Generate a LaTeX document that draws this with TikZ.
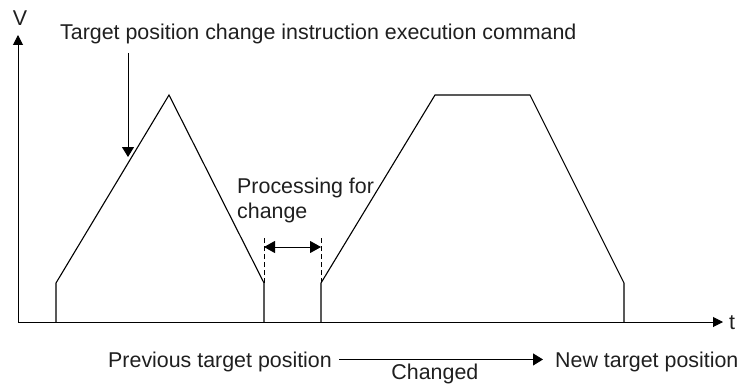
\documentclass[tikz,border=0pt]{standalone}
\usepackage{fontspec}
\setmainfont{Liberation Sans}
\usetikzlibrary{arrows.meta}

\newcommand*{\tbase}{322}
\newcommand*{\kink}{283}
\newcommand*{\vpeak}{95}

\begin{document}
\begin{tikzpicture}
[
	x=1pt,
	y=-1pt,
	axis/.style={line width=1pt,-{Triangle[length=10pt,width=10pt]}},
	profile/.style={line width=1.1pt,line join=miter},
	txt/.style={inner sep=0pt,text=black!88,font=\fontsize{21.4}{24.5}\selectfont},
	tip/.style={line width=1pt,-{Triangle[length=10pt,width=12pt]}},
	guide/.style={line width=0.9pt,dash pattern=on 5pt off 3pt}
]
	\useasboundingbox (0,0) rectangle (738,385);

	% axes
	\coordinate (o) at (18,\tbase);
	\coordinate (vend) at (18,35);
	\coordinate (tend) at (723,\tbase);
	\draw[axis] (o) -- (vend);
	\draw[axis] (o) -- (tend);
	\node[txt] (V) at (20,18) {V};
	\node[txt,anchor=west] (t) at (729,323) {t};

	% speed profiles
	\draw[profile] (56,\tbase) -- (56,\kink) coordinate (a1) -- (169,\vpeak) -- (264,\kink) coordinate (a2) -- (264,\tbase);
	\draw[profile] (321,\tbase) -- (321,\kink) coordinate (b1) -- (435,\vpeak) -- (530,\vpeak) -- (624,\kink) -- (624,\tbase);

	% command
	\node[txt,anchor=base west] (cmd) at (60,40) {Target position change instruction execution command};
	\coordinate (cmdtop) at (128,53);
	\coordinate (cmdtip) at (128,157);
	\draw[tip] (cmdtop) -- (cmdtip);

	% processing for change
	\draw[guide] (a2) -- ++(0,-47) coordinate (d1);
	\draw[guide] (b1) -- ++(0,-47) coordinate (d2);
	\draw[line width=1pt,{Triangle[length=11pt,width=12pt]}-{Triangle[length=11pt,width=12pt]}] ([yshift=-11pt]d1) -- ([yshift=-11pt]d2);
	\node[txt,anchor=base west,align=left] (proc) at (237,218) {Processing for\\change};

	% target positions
	\node[txt,anchor=base west] (prev) at (108,367) {Previous target position};
	\node[txt,anchor=base west] (new) at (555,367) {New target position};
	\draw[tip] ([xshift=7pt,yshift=2pt]prev.east) -- node[txt,below=4pt,pos=0.47] (chg) {Changed} ([xshift=-12pt,yshift=2pt]new.west);

\end{tikzpicture}
\end{document}
